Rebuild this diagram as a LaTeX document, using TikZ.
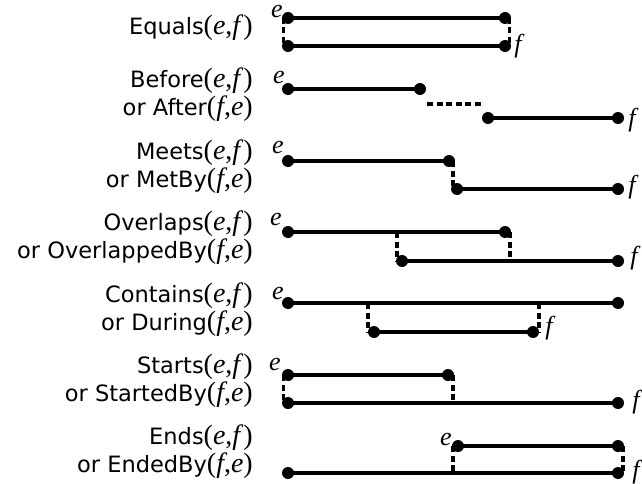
\documentclass[tikz,border=0pt]{standalone}
\usepackage{fontspec}
\setmainfont{DejaVu Sans}
\newfontfamily\tmsfont{Liberation Serif}
\newcommand\argEF{{\fontsize{28}{28}\selectfont\tmsfont(\textit{e},\textit{f})}}
\newcommand\argFE{{\fontsize{28}{28}\selectfont\tmsfont(\textit{f},\textit{e})}}
\begin{document}
\begin{tikzpicture}[x=1pt,y=-1pt,
  dot/.style={circle,fill=black,inner sep=0pt,minimum size=12pt},
  seg/.style={line width=3.4pt},
  dsh/.style={line width=3.4pt,dash pattern=on 6pt off 3.5pt},
  lab/.style={anchor=base east,font=\fontsize{22.5}{28}\selectfont,inner sep=0pt},
  var/.style={font=\fontsize{26}{28}\selectfont\tmsfont\itshape,inner sep=0pt}]
\useasboundingbox (0,0) rectangle (642,484);

% labels
\node[lab] (l1)  at (253,35)  {Equals\argEF};
\node[lab] (l2a) at (253,88)  {Before\argEF};
\node[lab] (l2b) at (253,116) {or After\argFE};
\node[lab] (l3a) at (253,159) {Meets\argEF};
\node[lab] (l3b) at (253,187) {or MetBy\argFE};
\node[lab] (l4a) at (253,230) {Overlaps\argEF};
\node[lab] (l4b) at (253,258) {or OverlappedBy\argFE};
\node[lab] (l5a) at (253,302) {Contains\argEF};
\node[lab] (l5b) at (253,330) {or During\argFE};
\node[lab] (l6a) at (253,373) {Starts\argEF};
\node[lab] (l6b) at (253,401) {or StartedBy\argFE};
\node[lab] (l7a) at (253,444) {Ends\argEF};
\node[lab] (l7b) at (253,472) {or EndedBy\argFE};

% Row 1: Equals
\node[dot] (e1a) at (288,18) {};  \node[dot] (e1b) at (505,18) {};
\node[dot] (f1a) at (288,46) {};  \node[dot] (f1b) at (505,46) {};
\draw[seg] (e1a.center) -- (e1b.center);
\draw[seg] (f1a.center) -- (f1b.center);
\draw[dsh] ([xshift=-4.5pt]e1a.center) -- ([xshift=-4.5pt]f1a.center);
\draw[dsh] ([xshift=4.5pt]e1b.center) -- ([xshift=4.5pt]f1b.center);
\node[var,anchor=base,text height=12pt,text depth=0pt] (ve1) at (277,18) {e};
\node[var] (vf1) at (518,46) {f};

% Row 2: Before
\node[dot] (e2a) at (288,89) {};  \node[dot] (e2b) at (420,89) {};
\node[dot] (f2a) at (488,118) {}; \node[dot] (f2b) at (618,118) {};
\draw[seg] (e2a.center) -- (e2b.center);
\draw[seg] (f2a.center) -- (f2b.center);
\coordinate (g2a) at (427,104); \coordinate (g2b) at (483,104);
\draw[dsh] (g2a) -- (g2b);
\node[var] (ve2) at (279,78) {e};
\node[var] (vf2) at (632,120) {f};

% Row 3: Meets
\node[dot] (e3a) at (288,161) {}; \node[dot] (e3b) at (449,161) {};
\node[dot] (f3a) at (457,189) {}; \node[dot] (f3b) at (618,189) {};
\draw[seg] (e3a.center) -- (e3b.center);
\draw[seg] (f3a.center) -- (f3b.center);
\draw[dsh] ([xshift=4pt]e3b.center) -- ([xshift=-4pt]f3a.center);
\node[var] (ve3) at (278,148) {e};
\node[var] (vf3) at (632,187) {f};

% Row 4: Overlaps
\node[dot] (e4a) at (288,232) {}; \node[dot] (e4b) at (505,232) {};
\node[dot] (f4a) at (402,261) {}; \node[dot] (f4b) at (618,261) {};
\draw[seg] (e4a.center) -- (e4b.center);
\draw[seg] (f4a.center) -- (f4b.center);
\draw[dsh] ([xshift=-5pt]f4a.center) ++(0,-29) -- ([xshift=-5pt]f4a.center);
\draw[dsh] ([xshift=5pt]e4b.center) -- ++(0,29);
\node[var] (ve4) at (276,220) {e};
\node[var] (vf4) at (634,258) {f};

% Row 5: Contains
\node[dot] (e5a) at (288,303) {}; \node[dot] (e5b) at (618,303) {};
\node[dot] (f5a) at (374,332) {}; \node[dot] (f5b) at (533,332) {};
\draw[seg] (e5a.center) -- (e5b.center);
\draw[seg] (f5a.center) -- (f5b.center);
\draw[dsh] ([xshift=-6pt]f5a.center) ++(0,-29) -- ([xshift=-6pt]f5a.center);
\draw[dsh] ([xshift=6pt]f5b.center) ++(0,-29) -- ([xshift=6pt]f5b.center);
\node[var] (ve5) at (278,293) {e};
\node[var] (vf5) at (549,328) {f};

% Row 6: Starts
\node[dot] (e6a) at (288,375) {}; \node[dot] (e6b) at (448,375) {};
\node[dot] (f6a) at (288,403) {}; \node[dot] (f6b) at (618,403) {};
\draw[seg] (e6a.center) -- (e6b.center);
\draw[seg] (f6a.center) -- (f6b.center);
\draw[dsh] ([xshift=-4.5pt]e6a.center) -- ([xshift=-4.5pt]f6a.center);
\draw[dsh] ([xshift=5pt]e6b.center) -- ++(0,28);
\node[var] (ve6) at (275,364) {e};
\node[var] (vf6) at (636,402) {f};

% Row 7: Ends
\node[dot] (e7a) at (458,446) {}; \node[dot] (e7b) at (618,446) {};
\node[dot] (f7a) at (288,473) {}; \node[dot] (f7b) at (618,473) {};
\draw[seg] (e7a.center) -- (e7b.center);
\draw[seg] (f7a.center) -- (f7b.center);
\draw[dsh] ([xshift=-5pt]e7a.center) -- ++(0,27);
\draw[dsh] ([xshift=5pt]e7b.center) -- ([xshift=5pt]f7b.center);
\node[var] (ve7) at (446,439) {e};
\node[var] (vf7) at (636,472) {f};
\end{tikzpicture}
\end{document}
